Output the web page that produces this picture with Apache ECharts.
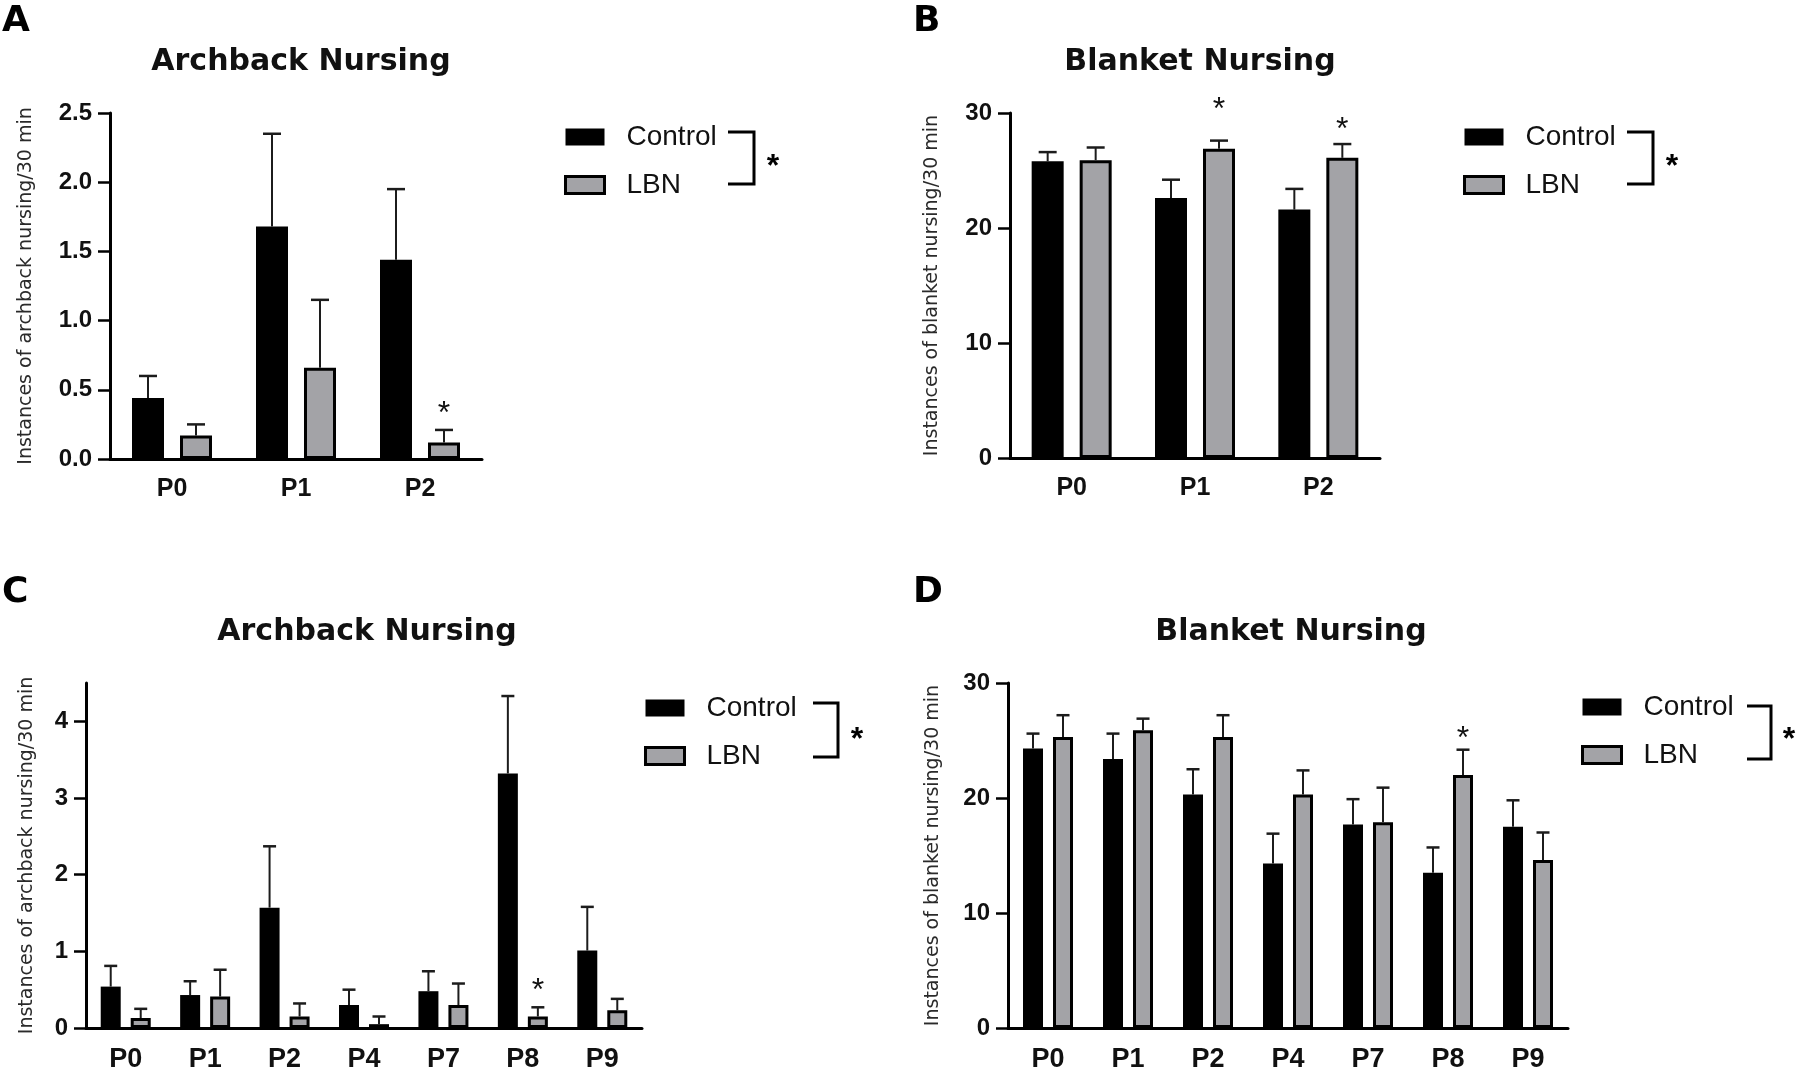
<!DOCTYPE html>
<html><head><meta charset="utf-8">
<script src="https://cdn.jsdelivr.net/npm/echarts@6/dist/echarts.min.js"></script>
<style>html,body{margin:0;padding:0;background:#fff}#c{width:1800px;height:1073px}</style>
</head><body><div id="c"></div>
<script>
// ---------- data ----------
const catsAB = ['P0', 'P1', 'P2'];
const catsCD = ['P0', 'P1', 'P2', 'P4', 'P7', 'P8', 'P9'];
const seriesNames = ['Control', 'LBN'];

const archbackA_control    = [0.44, 1.68, 1.44];
const archbackA_controlSem = [0.16, 0.67, 0.51];
const archbackA_lbn        = [0.17, 0.66, 0.12];
const archbackA_lbnSem     = [0.08, 0.49, 0.09];

const blanketB_control    = [25.8, 22.6, 21.6];
const blanketB_controlSem = [0.8, 1.6, 1.8];
const blanketB_lbn        = [25.9, 26.9, 26.1];
const blanketB_lbnSem     = [1.1, 0.7, 1.2];

const archbackC_control    = [0.54, 0.43, 1.57, 0.30, 0.48, 3.32, 1.01];
const archbackC_controlSem = [0.27, 0.18, 0.80, 0.20, 0.26, 1.01, 0.57];
const archbackC_lbn        = [0.13, 0.41, 0.15, 0.05, 0.30, 0.15, 0.23];
const archbackC_lbnSem     = [0.12, 0.35, 0.17, 0.10, 0.28, 0.12, 0.15];

const blanketD_control    = [24.3, 23.4, 20.3, 14.3, 17.7, 13.5, 17.5];
const blanketD_controlSem = [1.3, 2.2, 2.2, 2.6, 2.2, 2.2, 2.3];
const blanketD_lbn        = [25.3, 25.9, 25.3, 20.3, 17.9, 22.0, 14.6];
const blanketD_lbnSem     = [1.9, 1.0, 1.9, 2.1, 3.0, 2.2, 2.4];

// significance star levels above LBN bars (null = none)
const starA = [null, null, 0.38];
const starB = [null, 30.9, 29.2];
const starC = [null, null, null, null, null, 0.58, null];
const starD = [null, null, null, null, null, 25.8, null];

// y-axis ticks
const ticksA = [0, 0.5, 1, 1.5, 2, 2.5];
const ticksB = [0, 10, 20, 30];
const ticksC = [0, 1, 2, 3, 4];
const ticksD = [0, 10, 20, 30];

const titleArch = 'Archback Nursing';
const titleBlanket = 'Blanket Nursing';
const yNameArch = 'Instances of archback nursing/30 min';
const yNameBlanket = 'Instances of blanket nursing/30 min';

// ---------- layout / style ----------
const panels = [
  {letter:'A', title:titleArch, yName:yNameArch, cats:catsAB, ctrl:archbackA_control, ctrlSem:archbackA_controlSem, lbn:archbackA_lbn, lbnSem:archbackA_lbnSem, stars:starA, ticks:ticksA, max:2.5, dec:1,
   grid:{left:110, top:113, width:372, height:346}, barW:32, cap:18, nameGap:74, catFont:25,
   titleX:296, titleY:42, letterX:2, letterY:4, legendX:564, legendY:123, bracket:[728,132,754,184], bstar:[773,160]},
  {letter:'B', title:titleBlanket, yName:yNameBlanket, cats:catsAB, ctrl:blanketB_control, ctrlSem:blanketB_controlSem, lbn:blanketB_lbn, lbnSem:blanketB_lbnSem, stars:starB, ticks:ticksB, max:30, dec:0,
   grid:{left:1010, top:113, width:370, height:345}, barW:32, cap:18, nameGap:68, catFont:25,
   titleX:1195, titleY:42, letterX:913, letterY:4, legendX:1463, legendY:123, bracket:[1627,132,1653,184], bstar:[1672,160]},
  {letter:'C', title:titleArch, yName:yNameArch, cats:catsCD, ctrl:archbackC_control, ctrlSem:archbackC_controlSem, lbn:archbackC_lbn, lbnSem:archbackC_lbnSem, stars:starC, ticks:ticksC, max:4.5, dec:0,
   grid:{left:86, top:683, width:556, height:346}, barW:20, cap:13, nameGap:49, catFont:27,
   titleX:362, titleY:612, letterX:2, letterY:575, legendX:644, legendY:694, bracket:[813,703,838,757], bstar:[857,733]},
  {letter:'D', title:titleBlanket, yName:yNameBlanket, cats:catsCD, ctrl:blanketD_control, ctrlSem:blanketD_controlSem, lbn:blanketD_lbn, lbnSem:blanketD_lbnSem, stars:starD, ticks:ticksD, max:30, dec:0,
   grid:{left:1008, top:683, width:560, height:347}, barW:20, cap:13, nameGap:65, catFont:27,
   titleX:1286, titleY:612, letterX:913, letterY:575, legendX:1581, legendY:693, bracket:[1747,706,1771,759], bstar:[1789,733]}
];

const LBN_FILL = '#a3a3a7';
const GAP_RATIO = 0.5;

function errSeries(idx, cats, mean, sem, sign, w, cap) {
  return {
    type:'custom', xAxisIndex:idx, yAxisIndex:idx, z:5, silent:true,
    data: cats.map((c, i) => [i, mean[i], mean[i] + sem[i]]),
    renderItem(params, api) {
      const a = api.coord([api.value(0), api.value(1)]);
      const b = api.coord([api.value(0), api.value(2)]);
      const x = a[0] + sign * w * (1 + GAP_RATIO) / 2;
      return {type:'group', children:[
        {type:'line', shape:{x1:x, y1:a[1], x2:x, y2:b[1]}, style:{stroke:'#1c1c1c', lineWidth:2}},
        {type:'line', shape:{x1:x - cap/2, y1:b[1], x2:x + cap/2, y2:b[1]}, style:{stroke:'#1c1c1c', lineWidth:2.5}}
      ]};
    }
  };
}

function starSeries(idx, stars, w) {
  const data = [];
  stars.forEach((v, i) => { if (v != null) data.push([i, v]); });
  return {
    type:'custom', xAxisIndex:idx, yAxisIndex:idx, z:6, silent:true, data,
    renderItem(params, api) {
      const p = api.coord([api.value(0), api.value(1)]);
      const x = p[0] + w * (1 + GAP_RATIO) / 2;
      return {type:'text', x:x, y:p[1] + 8, style:{text:'*', fontSize:32, fontFamily:'Liberation Sans', fill:'#111', align:'center', verticalAlign:'middle'}};
    }
  };
}

const option = {
  backgroundColor:'#fff', animation:false,
  title:[], grid:[], xAxis:[], yAxis:[], series:[], legend:[], graphic:[]
};

panels.forEach((p, idx) => {
  option.title.push({text:p.title, left:p.titleX, top:p.titleY, textAlign:'center',
    textStyle:{fontFamily:'DejaVu Sans', fontWeight:'bold', fontSize:30, color:'#111'}});
  option.grid.push(Object.assign({containLabel:false}, p.grid));
  option.xAxis.push({type:'category', gridIndex:idx, data:p.cats,
    axisLine:{lineStyle:{color:'#000', width:3}},
    axisTick:{alignWithLabel:true, length:13, lineStyle:{color:'#000', width:3.5}},
    axisLabel:{margin:18, fontFamily:'Liberation Sans', fontWeight:'bold', fontSize:p.catFont, color:'#111'}});
  option.yAxis.push({type:'value', gridIndex:idx, min:0, max:p.max,
    name:p.yName, nameLocation:'middle', nameGap:p.nameGap,
    nameTextStyle:{fontFamily:'DejaVu Sans', fontSize:19, color:'#2a2a2a'},
    splitLine:{show:false},
    axisLine:{show:true, lineStyle:{color:'#000', width:3}},
    axisTick:{show:true, length:12, customValues:p.ticks, lineStyle:{color:'#000', width:2.5}},
    axisLabel:{margin:18, customValues:p.ticks, fontFamily:'Liberation Sans', fontWeight:'bold', fontSize:24, color:'#111',
      formatter: v => Number(v).toFixed(p.dec)}});
  option.series.push({name:seriesNames[0], type:'bar', xAxisIndex:idx, yAxisIndex:idx, data:p.ctrl,
    barWidth:p.barW, barGap:(GAP_RATIO*100)+'%', itemStyle:{color:'#000'}, z:3});
  option.series.push({name:seriesNames[1], type:'bar', xAxisIndex:idx, yAxisIndex:idx, data:p.lbn,
    barWidth:p.barW, barGap:(GAP_RATIO*100)+'%', itemStyle:{color:LBN_FILL, borderColor:'#000', borderWidth:3}, z:3});
  option.series.push(errSeries(idx, p.cats, p.ctrl, p.ctrlSem, -1, p.barW, p.cap));
  option.series.push(errSeries(idx, p.cats, p.lbn, p.lbnSem, 1, p.barW, p.cap));
  option.series.push(starSeries(idx, p.stars, p.barW));
  option.legend.push({left:p.legendX, top:p.legendY, orient:'vertical', padding:0, icon:'rect',
    itemWidth:39, itemHeight:17, itemGap:20, selectedMode:false, data:seriesNames.slice(),
    itemStyle:{borderWidth:'inherit'},
    textStyle:{fontFamily:'Liberation Sans', fontSize:28, color:'#111', padding:[0,0,0,17]}});
  const b = p.bracket;
  option.graphic.push({type:'polyline', silent:true,
    shape:{points:[[b[0], b[1]], [b[2], b[1]], [b[2], b[3]], [b[0], b[3]]]},
    style:{stroke:'#000', lineWidth:3, fill:null}});
  option.graphic.push({type:'text', silent:true, x:p.bstar[0], y:p.bstar[1] + 7,
    style:{text:'*', fontFamily:'Liberation Sans', fontWeight:'bold', fontSize:32, fill:'#000', align:'center', verticalAlign:'middle'}});
  option.graphic.push({type:'text', silent:true, x:p.letterX, y:p.letterY,
    style:{text:p.letter, fontFamily:'DejaVu Sans', fontWeight:'bold', fontSize:36, fill:'#000', align:'left', verticalAlign:'top'}});
});

const chart = echarts.init(document.getElementById('c'), null, {renderer:'canvas'});
chart.setOption(option);
</script></body></html>
